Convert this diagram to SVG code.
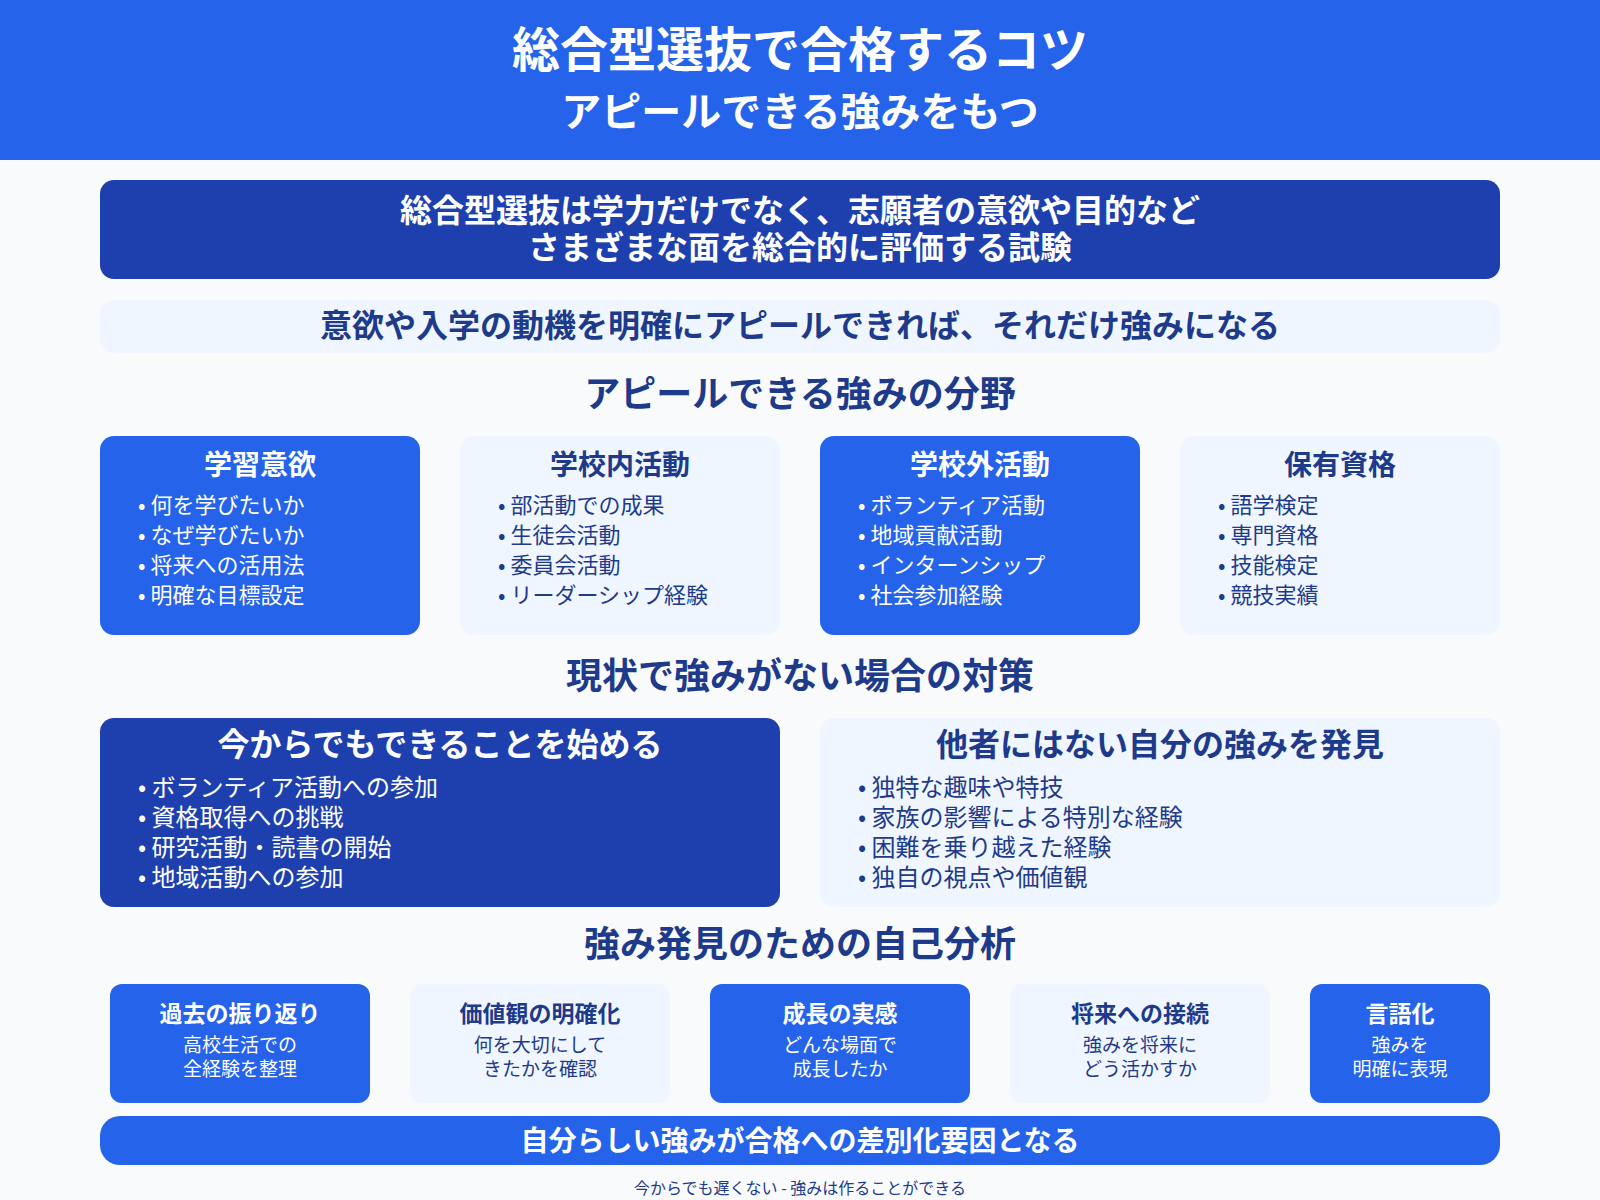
<svg xmlns="http://www.w3.org/2000/svg" width="1600" height="1200" viewBox="0 0 1600 1200">
<style>
text{font-family:"Noto Sans CJK JP","Noto Sans",sans-serif;}
.c{text-anchor:middle}
.w{fill:#fff}
.d{fill:#1e3a8a}
.b{font-weight:bold}
.blue{fill:#2563eb}
.dark{fill:#1e40af}
.light{fill:#eff6ff}
.it{font-size:22px}
.st{font-size:36px;font-weight:bold;fill:#1e3a8a;text-anchor:middle}
</style>
<rect width="1600" height="1200" fill="#f8fafc"/>
<g id="header"><rect width="1600" height="160" fill="#2563eb"/>
<text x="800" y="67" class="c w b" font-size="48">総合型選抜で合格するコツ</text>
<text x="800" y="126" class="c w b" font-size="40">アピールできる強みをもつ</text></g>
<g id="intro"><rect x="100" y="180" width="1400" height="99" rx="14" class="dark"/>
<text x="800" y="222" class="c w b" font-size="32">総合型選抜は学力だけでなく、志願者の意欲や目的など</text>
<text x="800" y="259" class="c w b" font-size="32">さまざまな面を総合的に評価する試験</text></g>
<g id="point"><rect x="100" y="300" width="1400" height="53" rx="14" class="light"/>
<text x="800" y="337" class="c d b" font-size="32">意欲や入学の動機を明確にアピールできれば、それだけ強みになる</text></g>
<text x="800" y="407" class="st">アピールできる強みの分野</text>
<g id="card1"><rect x="100" y="436" width="320" height="199" rx="14" class="blue"/>
<text x="260" y="475" class="c w b" font-size="28">学習意欲</text>
<g class="w it"><text x="138" y="513">• 何を学びたいか</text><text x="138" y="543">• なぜ学びたいか</text><text x="138" y="573">• 将来への活用法</text><text x="138" y="603">• 明確な目標設定</text></g></g>
<g id="card2"><rect x="460" y="436" width="320" height="199" rx="14" class="light"/>
<text x="620" y="475" class="c d b" font-size="28">学校内活動</text>
<g class="d it"><text x="498" y="513">• 部活動での成果</text><text x="498" y="543">• 生徒会活動</text><text x="498" y="573">• 委員会活動</text><text x="498" y="603">• リーダーシップ経験</text></g></g>
<g id="card3"><rect x="820" y="436" width="320" height="199" rx="14" class="blue"/>
<text x="980" y="475" class="c w b" font-size="28">学校外活動</text>
<g class="w it"><text x="858" y="513">• ボランティア活動</text><text x="858" y="543">• 地域貢献活動</text><text x="858" y="573">• インターンシップ</text><text x="858" y="603">• 社会参加経験</text></g></g>
<g id="card4"><rect x="1180" y="436" width="320" height="199" rx="14" class="light"/>
<text x="1340" y="475" class="c d b" font-size="28">保有資格</text>
<g class="d it"><text x="1218" y="513">• 語学検定</text><text x="1218" y="543">• 専門資格</text><text x="1218" y="573">• 技能検定</text><text x="1218" y="603">• 競技実績</text></g></g>
<text x="800" y="689" class="st">現状で強みがない場合の対策</text>
<g id="start"><rect x="100" y="718" width="680" height="189" rx="14" class="dark"/>
<text x="440" y="756" class="c w b" font-size="32">今からでもできることを始める</text>
<g class="w" font-size="24"><text x="138" y="796">• ボランティア活動への参加</text><text x="138" y="826">• 資格取得への挑戦</text><text x="138" y="856">• 研究活動・読書の開始</text><text x="138" y="886">• 地域活動への参加</text></g></g>
<g id="discover"><rect x="820" y="718" width="680" height="189" rx="14" class="light"/>
<text x="1160" y="756" class="c d b" font-size="32">他者にはない自分の強みを発見</text>
<g class="d" font-size="24"><text x="858" y="796">• 独特な趣味や特技</text><text x="858" y="826">• 家族の影響による特別な経験</text><text x="858" y="856">• 困難を乗り越えた経験</text><text x="858" y="886">• 独自の視点や価値観</text></g></g>
<text x="800" y="957" class="st">強み発見のための自己分析</text>
<g id="s1"><rect x="110" y="984" width="260" height="119" rx="12" class="blue"/>
<text x="240" y="1022" class="c w b" font-size="23">過去の振り返り</text>
<text x="240" y="1052" class="c w" font-size="19">高校生活での</text><text x="240" y="1076" class="c w" font-size="19">全経験を整理</text></g>
<g id="s2"><rect x="410" y="984" width="260" height="119" rx="12" class="light"/>
<text x="540" y="1022" class="c d b" font-size="23">価値観の明確化</text>
<text x="540" y="1052" class="c d" font-size="19">何を大切にして</text><text x="540" y="1076" class="c d" font-size="19">きたかを確認</text></g>
<g id="s3"><rect x="710" y="984" width="260" height="119" rx="12" class="blue"/>
<text x="840" y="1022" class="c w b" font-size="23">成長の実感</text>
<text x="840" y="1052" class="c w" font-size="19">どんな場面で</text><text x="840" y="1076" class="c w" font-size="19">成長したか</text></g>
<g id="s4"><rect x="1010" y="984" width="260" height="119" rx="12" class="light"/>
<text x="1140" y="1022" class="c d b" font-size="23">将来への接続</text>
<text x="1140" y="1052" class="c d" font-size="19">強みを将来に</text><text x="1140" y="1076" class="c d" font-size="19">どう活かすか</text></g>
<g id="s5"><rect x="1310" y="984" width="180" height="119" rx="12" class="blue"/>
<text x="1400" y="1022" class="c w b" font-size="23">言語化</text>
<text x="1400" y="1052" class="c w" font-size="19">強みを</text><text x="1400" y="1076" class="c w" font-size="19">明確に表現</text></g>
<g id="conclusion"><rect x="100" y="1116" width="1400" height="49" rx="20" class="blue"/>
<text x="800" y="1151" class="c w b" font-size="28">自分らしい強みが合格への差別化要因となる</text></g>
<text x="800" y="1194" class="c d" font-size="16">今からでも遅くない - 強みは作ることができる</text>
<g id="connectors"/>
</svg>
